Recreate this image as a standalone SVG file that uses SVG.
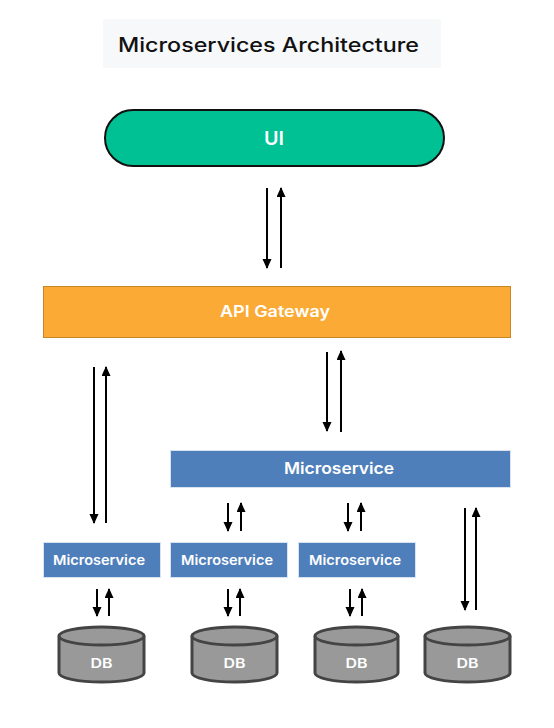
<svg xmlns="http://www.w3.org/2000/svg" width="554" height="728" viewBox="0 0 554 728">
<defs>
<marker id="ah" markerUnits="userSpaceOnUse" markerWidth="10" markerHeight="10" refX="9" refY="4.5" orient="auto">
<path d="M0,0 L10,4.5 L0,9 Z" fill="#000"/>
</marker>
<style>
.t{font-family:Inter,"Open Sans",sans-serif;font-weight:600;fill:#fff;text-anchor:middle;dominant-baseline:central}
.ar{stroke:#000;stroke-width:2;fill:none;marker-end:url(#ah)}
.ms{fill:#4f7fbb;stroke:#d9e2ef;stroke-width:1}
.db{fill:#999;stroke:#444;stroke-width:3}
</style>
</defs>
<rect width="554" height="728" fill="#fff"/>
<g id="title">
<rect x="103" y="19" width="338" height="49" fill="#f7f8fa"/>
<text x="118" y="45" font-family="Inter,'Open Sans',sans-serif" font-size="20" font-weight="500" fill="#111" dominant-baseline="central" textLength="301" lengthAdjust="spacingAndGlyphs">Microservices Architecture</text>
</g>
<g id="ui">
<rect x="105" y="110" width="339" height="56" rx="28" fill="#00c194" stroke="#111" stroke-width="2"/>
<text class="t" x="274" y="138" font-size="19" textLength="20" lengthAdjust="spacingAndGlyphs">UI</text>
</g>
<g id="api">
<rect x="43.5" y="286.5" width="467" height="51" fill="#fbab35" stroke="#c8862a" stroke-width="1"/>
<text class="t" x="275" y="311" font-size="16" textLength="110" lengthAdjust="spacingAndGlyphs">API Gateway</text>
</g>
<g id="ms-main">
<rect class="ms" x="170.5" y="450.5" width="340" height="37"/>
<text class="t" x="339" y="468" font-size="16" textLength="110" lengthAdjust="spacingAndGlyphs">Microservice</text>
</g>
<g id="ms1">
<rect class="ms" x="43.5" y="542.5" width="117" height="35"/>
<text class="t" x="99" y="560" font-size="13.5" textLength="92" lengthAdjust="spacingAndGlyphs">Microservice</text>
</g>
<g id="ms2">
<rect class="ms" x="170.5" y="542.5" width="117" height="35"/>
<text class="t" x="227" y="560" font-size="13.5" textLength="92" lengthAdjust="spacingAndGlyphs">Microservice</text>
</g>
<g id="ms3">
<rect class="ms" x="298.5" y="542.5" width="117" height="35"/>
<text class="t" x="355" y="560" font-size="13.5" textLength="92" lengthAdjust="spacingAndGlyphs">Microservice</text>
</g>
<g id="db1">
<path class="db" d="M59,636 L59,673 A42.5,9 0 0 0 144,673 L144,636"/>
<ellipse class="db" cx="101.5" cy="636" rx="42.5" ry="9"/>
<text class="t" x="101.5" y="663" font-size="13" textLength="22" lengthAdjust="spacingAndGlyphs">DB</text>
</g>
<g id="db2">
<path class="db" d="M192,636 L192,673 A42.5,9 0 0 0 277,673 L277,636"/>
<ellipse class="db" cx="234.5" cy="636" rx="42.5" ry="9"/>
<text class="t" x="234.5" y="663" font-size="13" textLength="22" lengthAdjust="spacingAndGlyphs">DB</text>
</g>
<g id="db3">
<path class="db" d="M315,636 L315,673 A41.5,9 0 0 0 398,673 L398,636"/>
<ellipse class="db" cx="356.5" cy="636" rx="41.5" ry="9"/>
<text class="t" x="356.5" y="663" font-size="13" textLength="22" lengthAdjust="spacingAndGlyphs">DB</text>
</g>
<g id="db4">
<path class="db" d="M425,636 L425,673 A42.5,9 0 0 0 510,673 L510,636"/>
<ellipse class="db" cx="467.5" cy="636" rx="42.5" ry="9"/>
<text class="t" x="467.5" y="663" font-size="13" textLength="22" lengthAdjust="spacingAndGlyphs">DB</text>
</g>
<g id="connectors">
<path class="ar" d="M267,188 L267,268"/>
<path class="ar" d="M281,268 L281,188"/>
<path class="ar" d="M94,367 L94,523"/>
<path class="ar" d="M106,523 L106,367"/>
<path class="ar" d="M327,352 L327,431"/>
<path class="ar" d="M341,432 L341,351"/>
<path class="ar" d="M228,503 L228,531"/>
<path class="ar" d="M241,531 L241,503"/>
<path class="ar" d="M348,503 L348,531"/>
<path class="ar" d="M361,531 L361,503"/>
<path class="ar" d="M465,508 L465,610"/>
<path class="ar" d="M476,610 L476,508"/>
<path class="ar" d="M97,589 L97,616"/>
<path class="ar" d="M109,616 L109,589"/>
<path class="ar" d="M228,589 L228,616"/>
<path class="ar" d="M240,616 L240,589"/>
<path class="ar" d="M350,589 L350,616"/>
<path class="ar" d="M362,616 L362,589"/>
</g>
</svg>
